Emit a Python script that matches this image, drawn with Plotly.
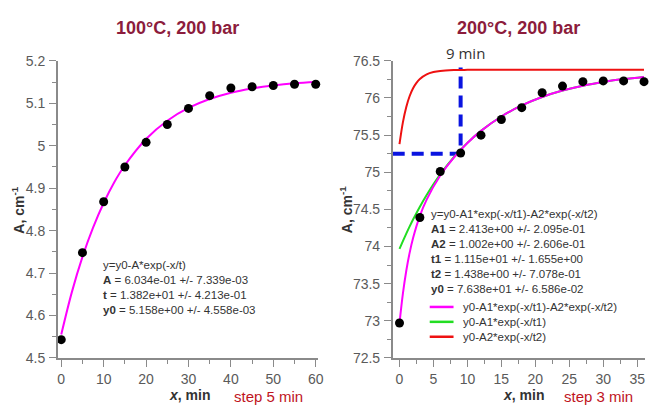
import plotly.graph_objects as go

# ---------------- data ----------------
# Left panel: 100 °C, 200 bar
left_x = [0, 5, 10, 15, 20, 25, 30, 35, 40, 45, 50, 55, 60]
left_y = [4.543, 4.748, 4.868, 4.950, 5.008, 5.050, 5.088, 5.118, 5.136, 5.139, 5.142, 5.145, 5.145]
left_fit_x = [0, 2.5, 5, 7.5, 10, 12.5, 15, 20, 25, 30, 35, 40, 45, 50, 55, 60]
left_fit_y = [4.555, 4.655, 4.738, 4.807, 4.865, 4.914, 4.954, 5.016, 5.059, 5.089,
              5.110, 5.125, 5.135, 5.142, 5.147, 5.150]

# Right panel: 200 °C, 200 bar
right_x = [0, 3, 6, 9, 12, 15, 18, 21, 24, 27, 30, 33, 36]
right_y = [72.97, 74.39, 75.01, 75.26, 75.50, 75.71, 75.87, 76.07, 76.16, 76.22, 76.23, 76.23, 76.22]
fit_x = [0, 0.5, 1, 1.5, 2, 3, 4, 6, 8, 10, 12, 15, 18, 21, 24, 27, 30, 33, 36]
fit_both = [72.965, 73.365, 73.674, 73.918, 74.114, 74.412, 74.632, 74.956, 75.198, 75.395,
            75.557, 75.751, 75.900, 76.013, 76.100, 76.166, 76.216, 76.255, 76.284]
fit_slow = [73.967, 74.073, 74.174, 74.271, 74.363, 74.536, 74.694, 74.971, 75.202, 75.396,
            75.557, 75.751, 75.900, 76.013, 76.100, 76.166, 76.216, 76.255, 76.284]
fast_x = [0, 0.5, 1, 1.5, 2, 2.5, 3, 4, 5, 6, 8, 10, 36]
fit_fast = [75.378, 75.672, 75.880, 76.027, 76.131, 76.204, 76.256, 76.318, 76.349, 76.365,
            76.376, 76.379, 76.380]
mark_x = [-1.0, 9, 9]
mark_y = [75.25, 75.25, 76.41]

left_text = ["y=y0-A*exp(-x/t)",
             "<b>A</b> = 6.034e-01 +/- 7.339e-03",
             "<b>t</b> = 1.382e+01 +/- 4.213e-01",
             "<b>y0</b> = 5.158e+00 +/- 4.558e-03"]
right_text = ["y=y0-A1*exp(-x/t1)-A2*exp(-x/t2)",
              "<b>A1</b> = 2.413e+00 +/- 2.095e-01",
              "<b>A2</b> = 1.002e+00 +/- 2.606e-01",
              "<b>t1</b> = 1.115e+01 +/- 1.655e+00",
              "<b>t2</b> = 1.438e+00 +/- 7.078e-01",
              "<b>y0</b> = 7.638e+01 +/- 6.586e-02"]
legend_names = ["y0-A1*exp(-x/t1)-A2*exp(-x/t2)", "y0-A1*exp(-x/t1)", "y0-A2*exp(-x/t2)"]
legend_colors = ["#ff00ff", "#22dd22", "#ee1111"]

# ---------------- layout helpers ----------------
W, H = 659, 413
def px(x):
    return x / W
def py(y):
    return 1 - y / H

MAGENTA = "#ff00ff"
GREEN = "#22dd22"
RED = "#ee1111"
BLUE = "#0a14e0"
AXIS = "#8a8a8a"
TICKF = dict(family="Liberation Sans, Arial", size=14, color="#5a5a5a")
TITLEC = "#8c1c3c"

fig = go.Figure()

# left
fig.add_trace(go.Scatter(x=left_fit_x, y=left_fit_y, mode="lines", line=dict(color=MAGENTA, width=2, shape="spline"),
                         xaxis="x", yaxis="y", showlegend=False, cliponaxis=False))
fig.add_trace(go.Scatter(x=left_x, y=left_y, mode="markers", marker=dict(color="black", size=9),
                         xaxis="x", yaxis="y", showlegend=False, cliponaxis=False))
# right
fig.add_trace(go.Scatter(x=mark_x, y=mark_y, mode="lines", line=dict(color=BLUE, width=4, dash="12px,7px"),
                         xaxis="x2", yaxis="y2", showlegend=False, cliponaxis=False))
fig.add_trace(go.Scatter(x=fast_x, y=fit_fast, mode="lines", line=dict(color=RED, width=2, shape="spline"),
                         xaxis="x2", yaxis="y2", showlegend=False, cliponaxis=False))
fig.add_trace(go.Scatter(x=fit_x, y=fit_slow, mode="lines", line=dict(color=GREEN, width=2, shape="spline"),
                         xaxis="x2", yaxis="y2", showlegend=False, cliponaxis=False))
fig.add_trace(go.Scatter(x=fit_x, y=fit_both, mode="lines", line=dict(color=MAGENTA, width=2, shape="spline"),
                         xaxis="x2", yaxis="y2", showlegend=False, cliponaxis=False))
fig.add_trace(go.Scatter(x=right_x, y=right_y, mode="markers", marker=dict(color="black", size=9),
                         xaxis="x2", yaxis="y2", showlegend=False, cliponaxis=False))

ydom = [py(364), py(55)]
common = dict(showline=True, linecolor=AXIS, linewidth=1.5, ticks="outside", ticklen=7,
              tickcolor=AXIS, tickwidth=1.2, showgrid=False, zeroline=False, tickfont=TICKF,
              ticklabelstandoff=1)

fig.update_layout(
    width=W, height=H, margin=dict(l=0, r=0, t=0, b=0),
    paper_bgcolor="white", plot_bgcolor="white",
    xaxis=dict(domain=[px(58.3), px(320.7)], range=[-0.8, 60.6], tick0=0, dtick=10, anchor="y",
               minor=dict(dtick=5, ticklen=4, ticks="outside", tickcolor=AXIS), **common),
    yaxis=dict(domain=ydom, range=[4.5, 5.2], tick0=4.5, dtick=0.1, anchor="x",
               minor=dict(dtick=0.05, ticklen=4, ticks="outside", tickcolor=AXIS), **common),
    xaxis2=dict(domain=[px(395.7), px(650.3)], range=[-1.0, 36.2], tick0=0, dtick=5, anchor="y2",
                minor=dict(dtick=2.5, ticklen=4, ticks="outside", tickcolor=AXIS), **common),
    yaxis2=dict(domain=ydom, range=[72.5, 76.5], tick0=72.5, dtick=0.5, anchor="x2",
                minor=dict(dtick=0.25, ticklen=4, ticks="outside", tickcolor=AXIS), **common),
)

ann = []
def add_text(text, x, y, size=14, color="#333333", family="Liberation Sans, Arial", xanchor="center",
             yanchor="middle", angle=0, align="center"):
    ann.append(dict(text=text, x=px(x), y=py(y), xref="paper", yref="paper", showarrow=False,
                    xanchor=xanchor, yanchor=yanchor, textangle=angle, align=align, borderpad=0,
                    font=dict(size=size, color=color, family=family)))

add_text("<b>100°C, 200 bar</b>", 179, 21, size=18, color=TITLEC)
add_text("<b>200°C, 200 bar</b>", 522, 21, size=18, color=TITLEC)
add_text("<b>A, cm<sup>-1</sup></b>", 18, 210, size=14, color="#333333", angle=-90)
add_text("<b>A, cm<sup>-1</sup></b>", 349, 210, size=14, color="#333333", angle=-90)
add_text("<b><i>x</i>, min</b>", 191, 403, size=14, color="#333333")
add_text("<b><i>x</i>, min</b>", 527, 403, size=14, color="#333333")
add_text("step 5 min", 271, 404, size=15, color="#c0141e")
add_text("step 3 min", 603, 404, size=15, color="#c0141e")
add_text("9 min", 469, 47, size=15, color="#333333", family="Open Sans, Liberation Sans")

add_text("<br>".join(left_text), 103, 260, size=11.5, xanchor="left", yanchor="top", align="left")
add_text("<br>".join(right_text), 433, 207, size=11.5, xanchor="left", yanchor="top", align="left")

shapes = []
for i, (name, col) in enumerate(zip(legend_names, legend_colors)):
    yy = 311 + i * 15.5
    add_text(name, 466, yy, size=11.5, xanchor="left")
    shapes.append(dict(type="line", xref="paper", yref="paper", x0=px(433), x1=px(457), y0=py(yy), y1=py(yy),
                       line=dict(color=col, width=2.5)))

fig.update_layout(annotations=ann, shapes=shapes)
fig.write_html("out.html")
